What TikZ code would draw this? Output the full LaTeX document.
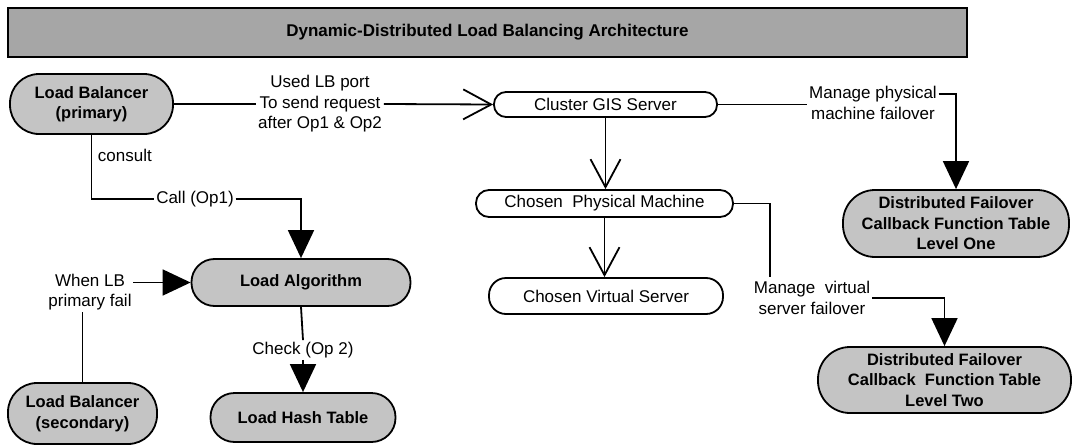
\documentclass[tikz,border=0pt]{standalone}
\usepackage{fontspec}
\setmainfont{Liberation Sans}
\usetikzlibrary{arrows.meta}
\newcommand\fsb{\fontsize{16.5}{20.5}\selectfont}
\newcommand\fsr{\fontsize{17}{20.5}\selectfont}
\definecolor{nodegray}{HTML}{C4C4C4}
\definecolor{titlegray}{HTML}{A6A6A6}
\begin{document}
\begin{tikzpicture}[x=1pt,y=-1pt,line width=1.8pt,
  gnode/.style={draw,fill=nodegray,font=\bfseries\fsb,align=center,inner sep=0pt,rounded corners=#1},
  gnode/.default=20pt,
  wnode/.style={draw,fill=white,font=\fsr,align=center,inner sep=0pt,rounded corners=#1},
  wnode/.default=12pt,
  lbl/.style={font=\fsr,align=center,inner sep=1pt},
  openarr/.style={-{Straight Barb[length=28pt,width=30pt]}},
  farr/.style={-{Triangle[length=28pt,width=26pt]}}]
\useasboundingbox (0,0) rectangle (1079,447);

\node[draw,fill=titlegray,minimum width=959pt,minimum height=49pt,inner sep=0pt,
  font=\bfseries\fontsize{17}{20}\selectfont] (title) at (487.5,32.5) {Dynamic-Distributed Load Balancing Architecture};

\node[gnode=29pt,minimum width=163pt,minimum height=60pt] (LBP) at (91.5,104) {Load Balancer\\(primary)};
\node[wnode=12pt,minimum width=223pt,minimum height=25pt] (CGS) at (605.5,104.5) {Cluster GIS Server};
\node[wnode=13pt,minimum width=257pt,minimum height=27pt] (CPM) at (604.5,203.5) {Chosen\ \ Physical Machine};
\node[wnode=17pt,minimum width=234pt,minimum height=36pt] (CVS) at (606,296) {Chosen Virtual Server};
\node[gnode=32pt,minimum width=226pt,minimum height=67pt] (DF1) at (956,223.5) {Distributed Failover\\Callback Function Table\\Level One};
\node[gnode=32pt,minimum width=253pt,minimum height=66pt] (DF2) at (944.5,380) {Distributed Failover\\Callback\ \ Function Table\\Level Two};
\node[gnode=23pt,minimum width=219pt,minimum height=47pt] (LA) at (301,282.5) {Load Algorithm};
\node[gnode=24pt,minimum width=185pt,minimum height=49pt] (LHT) at (303,417.5) {Load Hash Table};
\node[gnode=29pt,minimum width=149pt,minimum height=61pt] (LBS) at (82.5,413.5) {Load Balancer\\(secondary)};

% labels
\node[lbl] (lused) at (320,104) {Used LB port\\To send request\\after Op1 \& Op2};
\node[lbl] (lcall) at (195,199) {Call (Op1)};
\node[lbl,anchor=west] (lcons) at (96,155) {consult};
\node[lbl] (lwl) at (90,292) {When LB\\primary fail};
\node[lbl] (lchk) at (303,350) {Check (Op 2)};
\node[lbl] (lpm) at (873,103) {Manage physical\\machine failover};
\node[lbl] (lmv) at (812,298) {Manage\ \ virtual\\server failover};
\coordinate (v1) at (770,277);

% connectors
\draw (LBP.east) -- (lused.west);
\draw[openarr] (lused.east) -- (CGS.west);
\draw[openarr] (CGS.south) -- (CGS.south |- CPM.north);
\draw[openarr] (CPM.south) -- (CPM.south |- CVS.north);
\draw (CGS.east) -- (CGS.east -| lpm.west);
\draw[farr] (lpm.east |- 0,94) -| (DF1.north);
\draw (CPM.east) -| (v1);
\draw[farr] (lmv.east) -| (DF2.north);
\draw (LBP.south) |- (lcall.west);
\draw[farr] (lcall.east) -| (LA.north);
\draw (LBS.north) -- (LBS.north |- lwl.south);
\draw[farr] (lwl.east |- LA.west) -- (LA.west);
\draw (LA.south) -- (lchk.north);
\draw[farr] (lchk.south) -- (lchk.south -| LHT.north) -- (LHT.north);
\end{tikzpicture}
\end{document}
